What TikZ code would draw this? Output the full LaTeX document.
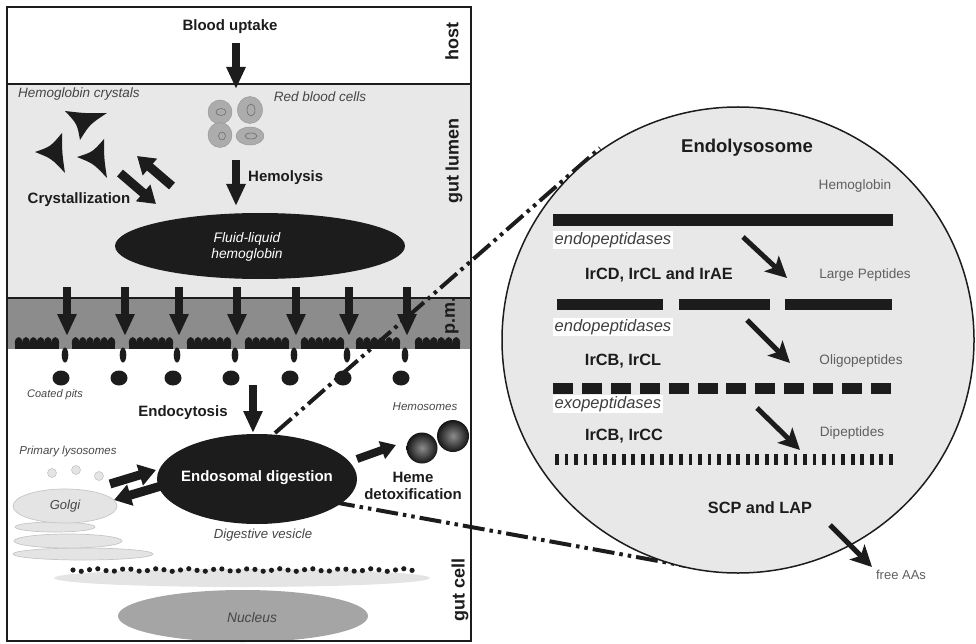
\documentclass[tikz,border=0pt]{standalone}
\usepackage{fontspec}
\setmainfont{Liberation Sans}
\usetikzlibrary{arrows.meta,shapes.geometric,calc}

\definecolor{lumen}{RGB}{232,232,232}
\definecolor{membrane}{RGB}{140,140,140}
\definecolor{ink}{RGB}{28,28,28}
\definecolor{rbc}{RGB}{172,172,172}
\definecolor{rbcedge}{RGB}{145,145,145}
\definecolor{pale}{RGB}{228,228,228}
\definecolor{paleedge}{RGB}{198,198,198}
\definecolor{nucleusfill}{RGB}{165,165,165}
\definecolor{note}{RGB}{70,70,70}
\definecolor{soft}{RGB}{95,95,95}

% concave three-cornered hemoglobin crystal: back edge #1--#2, tip #3
\newcommand{\crystal}[3]{%
  \coordinate (cA) at #1; \coordinate (cB) at #2; \coordinate (cC) at #3;
  \coordinate (cG) at ($0.3333*(cA)+0.3333*(cB)+0.3333*(cC)$);
  \fill[ink] (cA) .. controls ($(cA)!0.5!(cB)!0.15!(cG)$) .. (cB)
             .. controls ($(cB)!0.5!(cC)!0.4!(cG)$) .. (cC)
             .. controls ($(cC)!0.5!(cA)!0.4!(cG)$) .. (cA) -- cycle;}

\begin{document}
\begin{tikzpicture}[x=1pt,y=-1pt,
  every node/.style={inner sep=0pt},
  boldlbl/.style={font=\fontsize{15}{17}\selectfont\bfseries, text=ink, align=center},
  sidelbl/.style={font=\fontsize{18}{20}\selectfont\bfseries, text=ink, rotate=90},
  notelbl/.style={font=\fontsize{13.5}{15.5}\selectfont\itshape, text=note, align=center},
  smallnote/.style={font=\fontsize{11.5}{13}\selectfont\itshape, text=note},
  peplbl/.style={font=\fontsize{13.6}{15}\selectfont, text=soft},
  enzlbl/.style={font=\fontsize{16.3}{18}\selectfont\bfseries, text=ink},
  classlbl/.style={font=\fontsize{16.5}{18}\selectfont\itshape, text=ink!85, fill=white,
    inner xsep=1.5pt, inner ysep=1.5pt, anchor=west},
  bigarrow/.style={draw=ink, line width=8pt, -{Triangle[length=22pt,width=18pt]}},
  fatarrow/.style={draw=ink, line width=9pt, -{Triangle[length=17pt,width=21pt]}},
  steparrow/.style={draw=ink, line width=5pt, -{Stealth[length=21pt,width=21pt,inset=5pt]}},
  linkline/.style={draw=ink, line width=4pt,
    dash pattern=on 22pt off 5pt on 3.5pt off 5pt on 3.5pt off 5pt},
  bar/.style={fill=ink},
]
\useasboundingbox (0,0) rectangle (976,644);

% ---------- compartments ----------
\fill[lumen] (7,84) rectangle (471,298);
\fill[membrane] (7,298) rectangle (471,349);
\draw[ink, line width=1.2pt] (7,84) -- (471,84);
\draw[ink, line width=1.2pt] (7,298) -- (471,298);

\node[sidelbl] (host) at (452,42) {host};
\node[sidelbl] (lumenlbl) at (454,161) {gut lumen};
\node[sidelbl] (pm) at (452,316) {p.m.};
\node[sidelbl] (celllbl) at (460,590) {gut cell};

% ---------- host / lumen ----------
\node[boldlbl] (blood) at (230,27) {Blood uptake};
\coordinate (bloodTail) at (236,43);
\coordinate (bloodTip) at (236,89);
\draw[bigarrow] (bloodTail) -- (bloodTip);

\node[notelbl] (crystlbl) at (79,94) {Hemoglobin crystals};
\node[notelbl] (rbclbl) at (320,97) {Red blood cells};

% red blood cells
\fill[rbc, draw=rbcedge] (220,112) circle [radius=12];
\draw[rbcedge!75!black, line width=0.6pt] (221,112) ellipse [x radius=5, y radius=3.5];
\fill[rbc, draw=rbcedge] (250,110) ellipse [x radius=12.5, y radius=13.5];
\draw[rbcedge!75!black, line width=0.6pt] (251,110) ellipse [x radius=4, y radius=6];
\fill[rbc, draw=rbcedge] (220,135) ellipse [x radius=12, y radius=12.5];
\draw[rbcedge!75!black, line width=0.6pt] (222,136) ellipse [x radius=3.5, y radius=4];
\fill[rbc, draw=rbcedge] (250,136) ellipse [x radius=14, y radius=9];
\draw[rbcedge!75!black, line width=0.6pt] (251,136) ellipse [x radius=6, y radius=3];

% hemoglobin crystals
\crystal{(65,111)}{(107,113)}{(80,140)}
\crystal{(62,133)}{(65,173)}{(35,152)}
\crystal{(104,139)}{(107,178)}{(77,157)}

% crystallization equilibrium
\coordinate (crUpTail) at (172,186);
\coordinate (crUpTip) at (137,156);
\coordinate (crDnTail) at (120,173);
\coordinate (crDnTip) at (156,204);
\draw[fatarrow] (crUpTail) -- (crUpTip);
\draw[fatarrow] (crDnTail) -- (crDnTip);
\node[boldlbl] (cryst) at (79,200) {Crystallization};

% hemolysis
\coordinate (hemoTail) at (236,160);
\coordinate (hemoTip) at (236,206);
\draw[bigarrow] (hemoTail) -- (hemoTip);
\node[boldlbl, anchor=west] (hemolysis) at (248,178) {Hemolysis};

\node[ellipse, fill=ink, minimum width=290pt, minimum height=66pt] (fluid) at (260,246) {};
\node[font=\fontsize{13.8}{16}\selectfont\itshape, text=white, align=center] (fluidlbl)
  at (247,247) {Fluid-liquid\\hemoglobin};

% ---------- plasma membrane ----------
\foreach \xa in {67,125,179,237,296,349,407}{
  \draw[bigarrow] (\xa,287) -- (\xa,336);
  \fill[ink] ({\xa-2},355) ellipse [x radius=3.3, y radius=7.5];
  \fill[ink] ({\xa-6},378) ellipse [x radius=8.5, y radius=7.5];
}
% microvilli
\foreach \s/\e in {15/59,72/115,129/173,187/231,245/289,301/344,356/400,415/460}{
  \fill[ink] (\s,343) rectangle (\e,349);
  \pgfmathsetmacro\w{(\e-\s)/6}
  \pgfmathsetmacro\rr{\w/2+0.2}
  \foreach \k in {0,...,5}{
    \fill[ink] ({\s+(\k+0.5)*\w},343) ellipse [x radius=\rr, y radius=6];
  }
}
\node[font=\fontsize{11}{13}\selectfont\itshape, text=note] (pits) at (55,395) {Coated pits};

% ---------- gut cell ----------
\node[boldlbl] (endocyt) at (183,413) {Endocytosis};
\coordinate (endoTail) at (253,385);
\coordinate (endoTip) at (253,433);
\draw[bigarrow] (endoTail) -- (endoTip);

\node[smallnote] (prim) at (68,452) {Primary lysosomes};
\foreach \px/\py in {52/473,76/470,99/476}
  \fill[pale, draw=paleedge, line width=0.6pt] (\px,\py) circle [radius=4.5];

% Golgi stack
\fill[pale, draw=paleedge, line width=0.7pt] (83,554) ellipse [x radius=70, y radius=6];
\fill[pale, draw=paleedge, line width=0.7pt] (68,541) ellipse [x radius=54, y radius=7];
\fill[pale, draw=paleedge, line width=0.7pt] (55,527) ellipse [x radius=40, y radius=5];
\node[ellipse, fill=pale, draw=paleedge, line width=0.7pt, minimum width=104pt, minimum height=34pt]
  (golgi) at (65,506) {};
\node[font=\fontsize{13}{15}\selectfont\itshape, text=note] (golgilbl) at (65,506) {Golgi};

% endosomal digestion
\node[ellipse, fill=ink, minimum width=200pt, minimum height=90pt] (endo) at (257,479) {};
\node[boldlbl, text=white] (endolbl) at (257,478) {Endosomal digestion};
\node[font=\fontsize{13.2}{15}\selectfont\itshape, text=note] (vesicle) at (263,535) {Digestive vesicle};

\coordinate (toEndoTail) at (110,484);
\coordinate (toEndoTip) at (156,470);
\coordinate (toGolgiTail) at (161,486);
\coordinate (toGolgiTip) at (114,500);
\draw[fatarrow] (toEndoTail) -- (toEndoTip);
\draw[fatarrow] (toGolgiTail) -- (toGolgiTip);

% hemosomes
\coordinate (hemTail) at (357,459);
\coordinate (hemTip) at (396,445);
\draw[draw=ink, line width=8pt, -{Triangle[length=15pt,width=18pt]}] (hemTail) -- (hemTip);
\node[smallnote] (hemosomes) at (425,407) {Hemosomes};
\shade[inner color=black!45, outer color=black!92] (422,448) circle [radius=15.5];
\shade[inner color=black!45, outer color=black!92] (453,436) circle [radius=16];
\node[boldlbl] (heme) at (413,486) {Heme\\detoxification};

% vesicles along the nuclear envelope
\fill[pale] (242,578) ellipse [x radius=188, y radius=9];
\foreach \i in {0,...,41}{
  \pgfmathsetmacro\dx{73+\i*8.27}
  \pgfmathsetmacro\dy{570+1.3*sin(\i*97)}
  \fill[ink] (\dx,\dy) circle [radius=2.6];
}
\node[ellipse, fill=nucleusfill, minimum width=250pt, minimum height=52pt] (nucleus) at (243,616) {};
\node[font=\fontsize{13.8}{16}\selectfont\itshape, text=note] (nuclbl) at (252,618) {Nucleus};

% frame of the cell panel
\draw[ink, line width=2.5pt] (7,7) rectangle (471,641);

% ---------- links to the endolysosome ----------
\coordinate (linkA0) at (275,433);
\coordinate (linkA1) at (600,148);
\coordinate (linkB0) at (333,502);
\coordinate (linkB1) at (686,566);
\draw[linkline] (linkA0) -- (linkA1);
\draw[linkline] (linkB0) -- (linkB1);

% ---------- endolysosome ----------
\node[ellipse, draw=ink, line width=1.5pt, fill=lumen, minimum width=472pt, minimum height=466pt]
  (lyso) at (738,340) {};
\node[font=\fontsize{18.5}{20}\selectfont\bfseries, text=ink] (lysolbl) at (747,148) {Endolysosome};

\node[peplbl] (hb) at (855,186) {Hemoglobin};
\fill[bar] (553,214) rectangle (893,226);
\node[classlbl] (endo1) at (553,240) {endopeptidases};
\draw[steparrow] (743,237) -- (787,278);
\node[enzlbl] (enz1) at (659,275) {IrCD, IrCL and IrAE};
\node[peplbl] (large) at (865,275) {Large Peptides};

\fill[bar] (557,299) rectangle (663,310);
\fill[bar] (679,299) rectangle (770,310);
\fill[bar] (785,299) rectangle (892,310);
\node[classlbl] (endo2) at (553,327) {endopeptidases};
\draw[steparrow] (747,320) -- (790,363);
\node[enzlbl] (enz2) at (623,361) {IrCB, IrCL};
\node[peplbl] (oligo) at (861,361) {Oligopeptides};

\foreach \i in {0,...,11}
  \fill[bar] ({553+\i*28.9},383) rectangle ({573+\i*28.9},394);
\node[classlbl] (exo) at (553,404) {exopeptidases};
\draw[steparrow] (757,408) -- (800,450);
\node[enzlbl] (enz3) at (624,436) {IrCB, IrCC};
\node[peplbl] (dipep) at (852,433) {Dipeptides};

\foreach \i in {0,...,35}
  \fill[bar] ({555+\i*9.54},454) rectangle ({558.8+\i*9.54},465);

\node[enzlbl] (enz4) at (760,508) {SCP and LAP};
\draw[steparrow] (830,525) -- (872,567);
\node[peplbl, font=\fontsize{13}{15}\selectfont] (aas) at (901,575) {free AAs};
\end{tikzpicture}
\end{document}
